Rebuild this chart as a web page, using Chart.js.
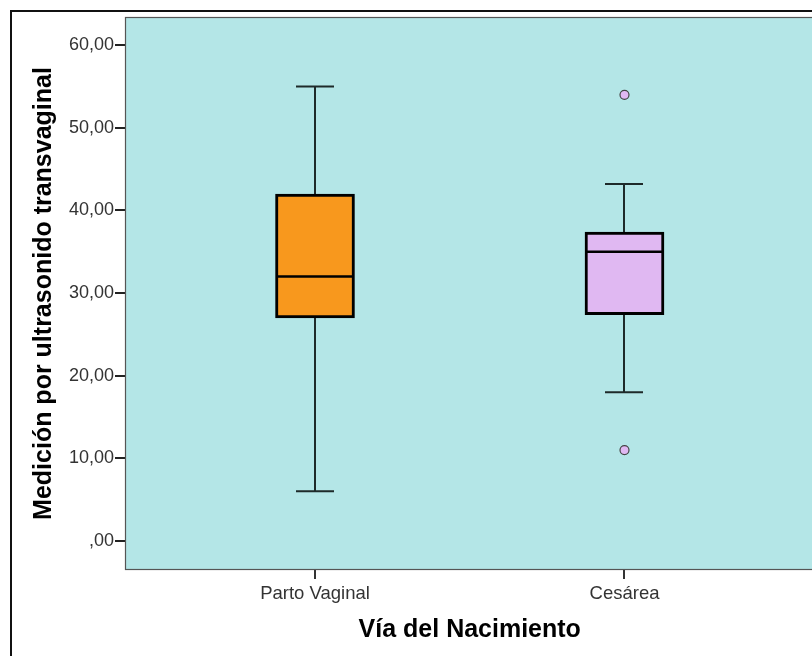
<!DOCTYPE html>
<html>
<head>
<meta charset="utf-8">
<script src="https://cdn.jsdelivr.net/npm/chart.js@4.4.1/dist/chart.umd.min.js"></script>
<style>
html,body{margin:0;padding:0;background:#fff;overflow:hidden;width:812px;height:656px;}
canvas{display:block;}
</style>
</head>
<body>
<canvas id="c" width="830" height="656"></canvas>
<script>
// ---- data ----
const categories = ['Parto Vaginal', 'Cesárea'];
const whiskerMin = [6, 18];
const q1 = [27, 27.4];
const median = [32, 35];
const q3 = [42, 37.4];
const whiskerMax = [55, 43.2];
const outliers = [[], [54, 11]];
const yTicks = [0, 10, 20, 30, 40, 50, 60];
const boxColors = ['#F8981D', '#E0B8F2'];

const FONT = "'Liberation Sans', Arial, sans-serif";

const boxData = categories.map((c, i) => ({x: i + 1, y: [q1[i], q3[i]]}));
const outlierData = [];
outliers.forEach((arr, i) => arr.forEach(v => outlierData.push({x: i + 1, y: v})));

const framePlugin = {
  id: 'frame',
  beforeDraw(chart) {
    const ctx = chart.ctx, a = chart.chartArea;
    ctx.save();
    ctx.fillStyle = '#fff';
    ctx.fillRect(0, 0, chart.width, chart.height);
    ctx.strokeStyle = '#111';
    ctx.lineWidth = 2;
    ctx.strokeRect(11, 11, chart.width + 50, chart.height + 50);
    ctx.fillStyle = '#B4E6E7';
    ctx.fillRect(a.left, a.top, a.right - a.left, a.bottom - a.top);
    ctx.restore();
  },
  beforeDatasetsDraw(chart) {
    const ctx = chart.ctx, a = chart.chartArea;
    const xs = chart.scales.x, ys = chart.scales.y;
    ctx.save();
    ctx.strokeStyle = '#555';
    ctx.lineWidth = 1.2;
    ctx.strokeRect(a.left - 0.5, a.top - 0.5, a.right - a.left + 1, a.bottom - a.top + 1);
    // whiskers
    ctx.strokeStyle = '#1e2a2a';
    ctx.lineWidth = 2;
    categories.forEach((c, i) => {
      const x = Math.round(xs.getPixelForValue(i + 1));
      const capHalf = 19;
      const yMax = ys.getPixelForValue(whiskerMax[i]);
      const yQ3 = ys.getPixelForValue(q3[i]);
      const yQ1 = ys.getPixelForValue(q1[i]);
      const yMin = ys.getPixelForValue(whiskerMin[i]);
      ctx.beginPath();
      ctx.moveTo(x, yMax); ctx.lineTo(x, yQ3);
      ctx.moveTo(x, yQ1); ctx.lineTo(x, yMin);
      ctx.moveTo(x - capHalf, yMax); ctx.lineTo(x + capHalf, yMax);
      ctx.moveTo(x - capHalf, yMin); ctx.lineTo(x + capHalf, yMin);
      ctx.stroke();
    });
    ctx.restore();
  },
  afterDatasetsDraw(chart) {
    const ctx = chart.ctx;
    const ys = chart.scales.y;
    const meta = chart.getDatasetMeta(0);
    ctx.save();
    ctx.strokeStyle = '#000';
    ctx.lineWidth = 2.6;
    categories.forEach((c, i) => {
      const bar = meta.data[i];
      const half = bar.width / 2;
      const x = bar.x;
      const y = ys.getPixelForValue(median[i]);
      ctx.beginPath();
      ctx.moveTo(x - half + 2, y); ctx.lineTo(x + half - 2, y);
      ctx.stroke();
    });
    ctx.restore();
  }
};

new Chart(document.getElementById('c'), {
  data: {
    datasets: [
      {
        type: 'bar',
        data: boxData,
        backgroundColor: boxColors,
        borderColor: '#000',
        borderWidth: 3,
        borderSkipped: false,
        barThickness: 79
      },
      {
        type: 'scatter',
        data: outlierData,
        pointRadius: 4.5,
        pointBackgroundColor: boxColors[1],
        pointBorderColor: '#444',
        pointBorderWidth: 1.2
      }
    ]
  },
  options: {
    responsive: false,
    animation: false,
    devicePixelRatio: 1,
    layout: {padding: {left: 0, top: 18, right: 16.5, bottom: 0}},
    plugins: {legend: {display: false}, tooltip: {enabled: false}},
    scales: {
      x: {
        type: 'linear',
        offset: false,
        min: 0.3893,
        max: 2.6107,
        afterBuildTicks(s) { s.ticks = categories.map((c, i) => ({value: i + 1})); },
        afterFit(s) { s.height = 87; },
        ticks: {
          callback: v => categories[v - 1],
          font: {family: FONT, size: 18.5},
          color: '#333',
          padding: 4,
          maxRotation: 0,
          autoSkip: false
        },
        grid: {offset: false, drawOnChartArea: false, drawTicks: true, tickLength: 10, tickColor: '#333', lineWidth: 2},
        border: {display: false},
        title: {
          display: true,
          text: 'Vía del Nacimiento',
          font: {family: FONT, size: 25, weight: 'bold'},
          color: '#000',
          padding: {top: 0, bottom: 10.5}
        }
      },
      y: {
        type: 'linear',
        min: -3.4,
        max: 63.3,
        afterBuildTicks(s) { s.ticks = yTicks.map(v => ({value: v})); },
        afterFit(s) { s.width = 126; },
        ticks: {
          callback: v => v === 0 ? ',00' : v.toFixed(2).replace('.', ','),
          font: {family: FONT, size: 18},
          color: '#333',
          padding: 1
        },
        grid: {drawOnChartArea: false, drawTicks: true, tickLength: 11, tickColor: '#222', lineWidth: 2},
        border: {display: false},
        title: {
          display: true,
          text: 'Medición por ultrasonido transvaginal',
          font: {family: FONT, size: 25, weight: 'bold'},
          color: '#000',
          padding: {top: 29, bottom: 0}
        }
      }
    }
  },
  plugins: [framePlugin]
});
</script>
</body>
</html>
